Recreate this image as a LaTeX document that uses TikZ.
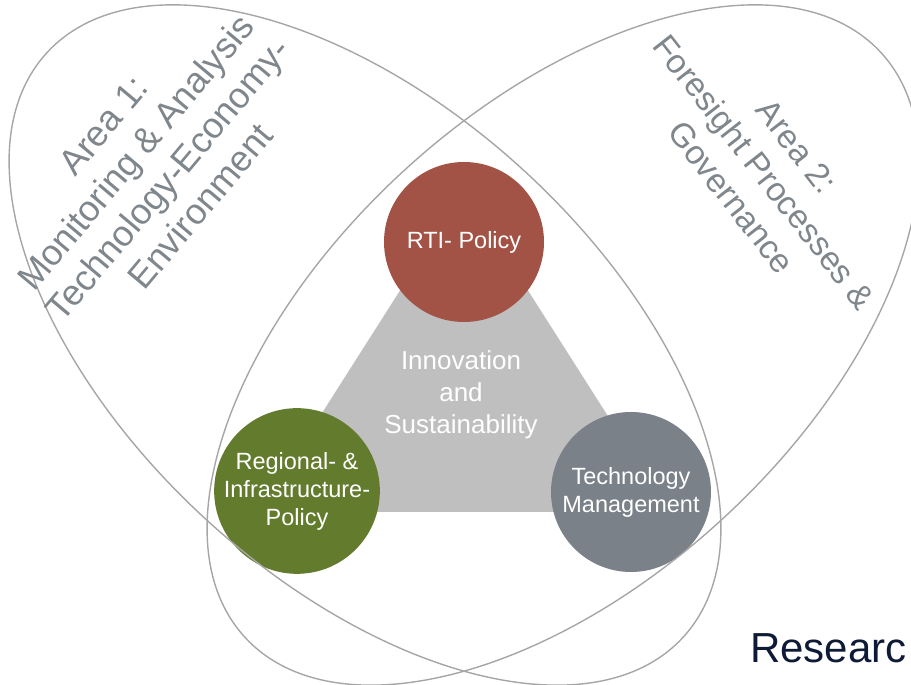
\documentclass[tikz,border=0pt]{standalone}
\usepackage{fontspec}
\setmainfont{Liberation Sans}
\usepackage{tikz}
\usetikzlibrary{positioning,calc}
\definecolor{ellgray}{HTML}{A6A6A6}
\definecolor{labelgray}{HTML}{7F868C}
\definecolor{trigray}{HTML}{BFBFBF}
\definecolor{rtired}{HTML}{A35346}
\definecolor{regiongreen}{HTML}{627B2C}
\definecolor{techgray}{HTML}{7B8188}
\definecolor{researchnavy}{HTML}{0E1A36}

\begin{document}
\begin{tikzpicture}[x=1pt, y=1pt,
    arealine/.style={draw=ellgray, line width=1.4pt},
    focusnode/.style={circle, minimum size=160pt, inner sep=0pt, text=white, align=center, font=\fontsize{23.5}{28}\selectfont},
    arealabel/.style={text=labelgray, align=center}
]
    \clip (0,0) rectangle (911,685);

    % Core triangle
    \coordinate (tleft) at (259,173);
    \coordinate (tright) at (669,173);
    \coordinate (ttop) at (464,495);
    \fill[trigray] (tleft) -- (tright) -- (ttop) -- cycle;
    \node[text=white, align=center, font=\fontsize{26}{32}\selectfont] (core) at (461,290) {Innovation\\and\\Sustainability};

    % Focus circles
    \node[focusnode, fill=rtired] (rti) at (464,443) {RTI- Policy};
    \node[focusnode, fill=regiongreen] (region) at (297,194) {Regional- \&\\Infrastructure-\\Policy};
    \node[focusnode, fill=techgray] (tech) at (631,193) {Technology\\Management};

    % Research areas
    \draw[arealine, rotate around={-42.6:(365,340)}] (365,340) ellipse [x radius=432pt, y radius=236pt];
    \draw[arealine, rotate around={42.6:(563,340)}] (563,340) ellipse [x radius=432pt, y radius=236pt];
    \node[arealabel, rotate=50, font=\fontsize{36}{42}\selectfont] (area1) at (152,519) {Area 1:\\Monitoring \& Analysis\\Technology-Economy-\\Environment};
    \node[arealabel, rotate=-52, font=\fontsize{33.5}{41.5}\selectfont] (area2) at (764,513) {Area 2:\\Foresight Processes \&\\Governance};

    \node[anchor=base east, text=researchnavy, font=\fontsize{42}{50}\selectfont] (research) at (910,22) {Researc};
\end{tikzpicture}
\end{document}
